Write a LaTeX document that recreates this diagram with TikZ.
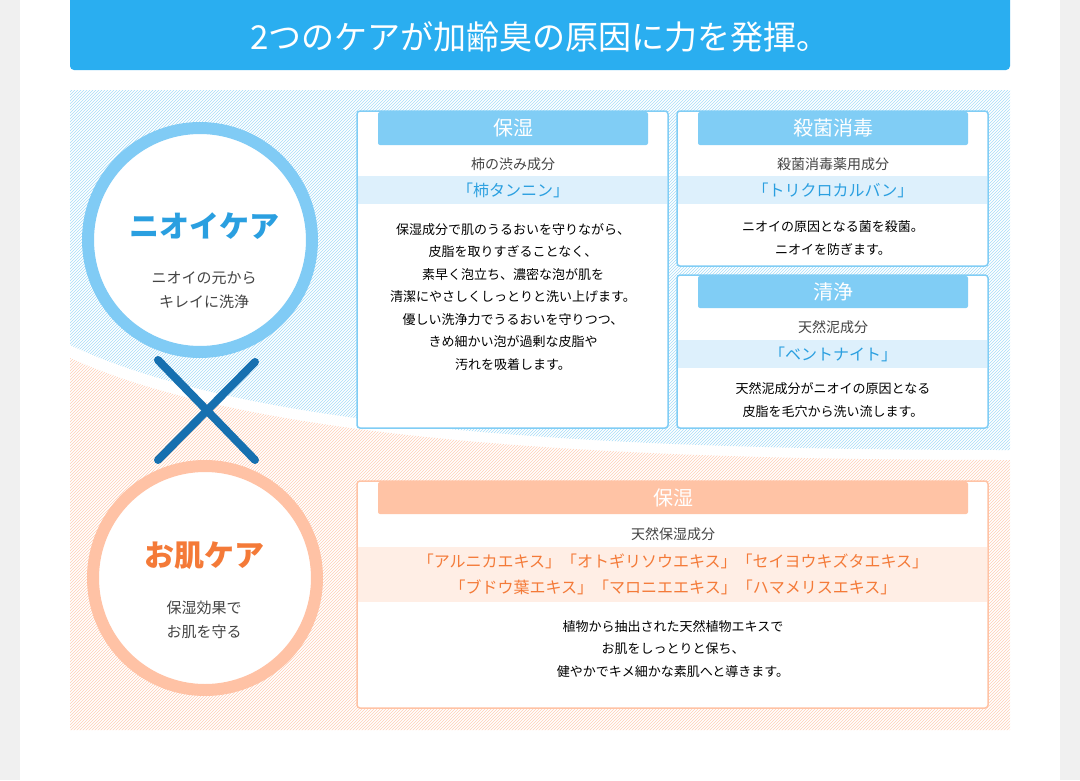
\documentclass[tikz,border=0pt]{standalone}
\usepackage{fontspec}
\setmainfont{Noto Sans CJK JP}
\usetikzlibrary{patterns}
\definecolor{titleblue}{HTML}{2AAEF0}
\definecolor{tabblue}{HTML}{80CDF5}
\definecolor{bandblue}{HTML}{DDF0FC}
\definecolor{txtblue}{HTML}{2A9FE0}
\definecolor{ringblue}{HTML}{80CBF5}
\definecolor{crossblue}{HTML}{1670B0}
\definecolor{tabpink}{HTML}{FFC3A5}
\definecolor{bandpink}{HTML}{FFEEE5}
\definecolor{txtorange}{HTML}{F47A38}
\definecolor{ringpink}{HTML}{FFC2A5}
\definecolor{greytxt}{HTML}{444444}
\tikzset{
  cardblue/.style={draw=tabblue, line width=1.5pt, fill=white, rounded corners=3pt},
  cardpink/.style={draw=tabpink, line width=1.5pt, fill=white, rounded corners=3pt},
  tabtext/.style={text=white, font=\fontsize{20}{22}\selectfont},
  subtext/.style={text=greytxt, font=\fontsize{14}{16}\selectfont},
  bodytext/.style={text=black, font=\fontsize{13}{22.5}\selectfont, align=center},
  keytext/.style={font=\fontsize{16}{26}\selectfont, align=center},
}
\begin{document}
\begin{tikzpicture}[x=1pt,y=-1pt]
  \useasboundingbox (0,0) rectangle (1080,780);
  \fill[black!6] (0,0) rectangle (1080,780);
  \fill[white] (20,0) rectangle (1060,780);

  % title bar
  \fill[titleblue, rounded corners=4pt] (70,-10) rectangle (1010,70);
  \node[text=white, font=\fontsize{33}{36}\selectfont] (title) at (540,37) {2つのケアが加齢臭の原因に力を発揮。};

  % hatched backgrounds
  \path[fill=blue!4, pattern=north east lines, pattern color=tabblue!70]
    (70,90) -- (1010,90) -- (1010,450) .. controls (600,450) and (250,430) .. (70,345) -- cycle;
  \path[fill=orange!5, pattern=north east lines, pattern color=tabpink!80]
    (70,358) .. controls (250,440) and (600,460) .. (1010,460) -- (1010,730) -- (70,730) -- cycle;

  % circles and cross
  \node[circle, draw=ringblue, line width=12pt, fill=white, minimum size=224pt] (odor) at (200,240) {};
  \node[circle, draw=ringpink, line width=12pt, fill=white, minimum size=224pt] (skin) at (205,578) {};
  \draw[crossblue, line width=8pt, line cap=round] (158,360) -- (255,460);
  \draw[crossblue, line width=8pt, line cap=round] (255,362) -- (158,460);
  \node[text=txtblue, font=\bfseries\fontsize{30}{32}\selectfont] (odorname) at (204,226) {ニオイケア};
  \node[subtext, align=center, font=\fontsize{15}{24}\selectfont] (odorsub) at (204,290) {ニオイの元から\\キレイに洗浄};
  \node[text=txtorange, font=\bfseries\fontsize{30}{32}\selectfont] (skinname) at (204,556) {お肌ケア};
  \node[subtext, align=center, font=\fontsize{15}{24}\selectfont] (skinsub) at (204,620) {保湿効果で\\お肌を守る};

  % box: moisture (odor)
  \draw[cardblue] (357,111) rectangle (668,428);
  \fill[tabblue, rounded corners=2pt] (378,112) rectangle (648,145);
  \node[tabtext] (tabA) at (513,128) {保湿};
  \node[subtext] (subA) at (513,164) {柿の渋み成分};
  \fill[bandblue] (358,176) rectangle (667,204);
  \node[keytext, text=txtblue] (keyA) at (513,190) {「柿タンニン」};
  \node[bodytext] (bodyA) at (513,297) {保湿成分で肌のうるおいを守りながら、\\皮脂を取りすぎることなく、\\素早く泡立ち、濃密な泡が肌を\\清潔にやさしくしっとりと洗い上げます。\\優しい洗浄力でうるおいを守りつつ、\\きめ細かい泡が過剰な皮脂や\\汚れを吸着します。};

  % box: sterilize
  \draw[cardblue] (677,111) rectangle (988,266);
  \fill[tabblue, rounded corners=2pt] (698,112) rectangle (968,145);
  \node[tabtext] (tabB) at (833,128) {殺菌消毒};
  \node[subtext] (subB) at (833,164) {殺菌消毒薬用成分};
  \fill[bandblue] (678,176) rectangle (987,204);
  \node[keytext, text=txtblue] (keyB) at (833,190) {「トリクロカルバン」};
  \node[bodytext] (bodyB) at (833,238) {ニオイの原因となる菌を殺菌。\\ニオイを防ぎます。};

  % box: cleanse
  \draw[cardblue] (677,275) rectangle (988,428);
  \fill[tabblue, rounded corners=2pt] (698,276) rectangle (968,308);
  \node[tabtext] (tabC) at (833,292) {清浄};
  \node[subtext] (subC) at (833,327) {天然泥成分};
  \fill[bandblue] (678,340) rectangle (987,368);
  \node[keytext, text=txtblue] (keyC) at (833,354) {「ベントナイト」};
  \node[bodytext] (bodyC) at (833,400) {天然泥成分がニオイの原因となる\\皮脂を毛穴から洗い流します。};

  % box: moisture (skin)
  \draw[cardpink] (357,481) rectangle (988,708);
  \fill[tabpink, rounded corners=2pt] (378,482) rectangle (968,514);
  \node[tabtext] (tabD) at (673,498) {保湿};
  \node[subtext] (subD) at (673,534) {天然保湿成分};
  \fill[bandpink] (358,547) rectangle (987,602);
  \node[keytext, text=txtorange] (keyD) at (673,574) {「アルニカエキス」「オトギリソウエキス」「セイヨウキズタエキス」\\「ブドウ葉エキス」「マロニエエキス」「ハマメリスエキス」};
  \node[bodytext] (bodyD) at (673,649) {植物から抽出された天然植物エキスで\\お肌をしっとりと保ち、\\健やかでキメ細かな素肌へと導きます。};
\end{tikzpicture}
\end{document}
